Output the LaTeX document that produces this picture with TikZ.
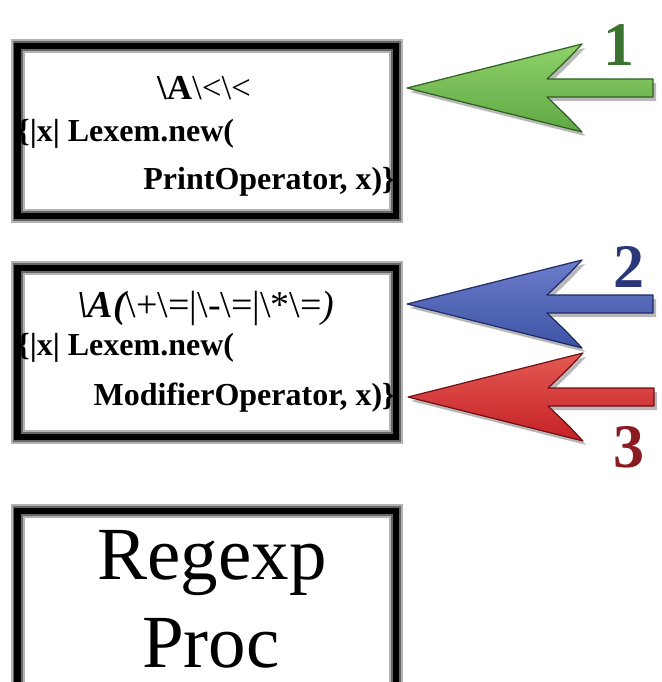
\documentclass[tikz,border=0pt]{standalone}
\usepackage{fontspec}
\setmainfont{Liberation Serif}
\usetikzlibrary{calc}
\definecolor{greenL}{HTML}{8FD16A}
\definecolor{greenM}{HTML}{5FA843}
\definecolor{greenD}{HTML}{2F5E22}
\definecolor{greenN}{HTML}{3B7330}
\definecolor{blueL}{HTML}{6B7DCB}
\definecolor{blueM}{HTML}{3E52A4}
\definecolor{blueD}{HTML}{1F2A66}
\definecolor{blueN}{HTML}{2A3778}
\definecolor{redL}{HTML}{E45A52}
\definecolor{redM}{HTML}{C52027}
\definecolor{redD}{HTML}{6E1014}
\definecolor{redN}{HTML}{8A1B20}
\tikzset{
  halo/.style={draw=black!30, line width=14pt, minimum width=378.5pt, inner sep=0pt, rectangle},
  halo2/.style={draw=black!60, line width=10pt, minimum width=378.5pt, inner sep=0pt, rectangle},
  boxframe/.style={draw=black, line width=6.5pt, minimum width=378.5pt, inner sep=0pt, rectangle},
  codetext/.style={inner sep=0pt, font=\fontsize{32}{32}\selectfont\bfseries},
  bigtext/.style={inner sep=0pt, font=\fontsize{75}{75}\selectfont},
  numtext/.style={inner sep=0pt, anchor=base, font=\fontsize{62}{62}\selectfont\bfseries},
  arrowshadow/.style={fill=black, opacity=0.28},
}
\newcommand{\arrowpath}{(0,0) -- (175,-44) .. controls (160,-28) .. (140,-9) -- (246,-9) -- (246,9) -- (140,9) .. controls (160,28) .. (175,44) -- cycle}
\begin{document}
\begin{tikzpicture}[x=1pt,y=-1pt]
\useasboundingbox (0,0) rectangle (661,682);
\clip (0,0) rectangle (661,682);
% boxes
\foreach \cy/\h in {131/170, 352.5/169, 605.5/189}{
  \node[halo, minimum height=\h pt] at (206.75,\cy) {};
  \node[halo2, minimum height=\h pt] at (206.75,\cy) {};
}
\node[boxframe, minimum height=170pt] (b1) at (206.75,131) {};
\node[boxframe, minimum height=169pt] (b2) at (206.75,352.5) {};
\node[boxframe, minimum height=189pt] (b3) at (206.75,605.5) {};
% box 1 text
\node[inner sep=0pt, anchor=base, font=\fontsize{35}{35}\selectfont] (t1a) at (204,100) {{\bfseries\textbackslash A}\textbackslash<\textbackslash<};
\node[codetext, anchor=base west] (t1b) at (17,141) {\{|x| Lexem.new(};
\node[codetext, anchor=base east] (t1c) at (395,189) {PrintOperator, x)\}};
% box 2 text
\node[inner sep=0pt, anchor=base, font=\fontsize{38}{38}\selectfont] (t2a) at (206,317) {{\itshape\bfseries\textbackslash A(}\textbackslash+\textbackslash=|\textbackslash-\textbackslash=|\textbackslash*\textbackslash={\itshape)}};
\node[codetext, anchor=base west] (t2b) at (17,355) {\{|x| Lexem.new(};
\node[codetext, anchor=base east] (t2c) at (395,405) {ModifierOperator, x)\}};
% box 3 text
\node[bigtext, anchor=base] (t3a) at (212,579) {Regexp};
\node[bigtext, anchor=base] (t3b) at (211,667) {Proc};
% arrow tips
\coordinate (a1) at (407,88);
\coordinate (a2) at (407,304);
\coordinate (a3) at (408,397);
% arrows
\foreach \a/\cl/\cm/\cd in {a1/greenL/greenM/greenD, a2/blueL/blueM/blueD, a3/redL/redM/redD}{
  \fill[arrowshadow, shift={($(\a)+(3,4)$)}] \arrowpath;
  \shadedraw[shift={(\a)}, top color=\cl, bottom color=\cm, draw=\cd, line width=1.2pt, line join=round] \arrowpath;
}
% numbers
\node[numtext, text=greenN] (n1) at (619,66) {1};
\node[numtext, text=blueN] (n2) at (629,287) {2};
\node[numtext, text=redN] (n3) at (629,467) {3};
\end{tikzpicture}
\end{document}
